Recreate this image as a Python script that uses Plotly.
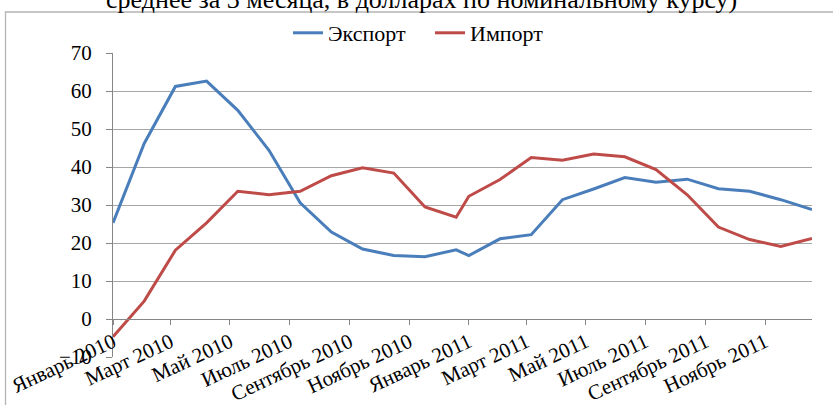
import plotly.graph_objects as go

# ---- data ----
dates = ["2010-01-01", "2010-02-02", "2010-03-06", "2010-04-07", "2010-05-09", "2010-06-10",
         "2010-07-12", "2010-08-13", "2010-09-14", "2010-10-16", "2010-11-17", "2010-12-19",
         "2011-01-01", "2011-02-02", "2011-03-06", "2011-04-07", "2011-05-09", "2011-06-10",
         "2011-07-12", "2011-08-13", "2011-09-14", "2011-10-16", "2011-11-17", "2011-12-19"]
export_vals = [25.3, 46.2, 61.2, 62.6, 54.9, 44.4, 30.6, 22.9, 18.4, 16.7, 16.4, 18.2,
               16.7, 21.1, 22.2, 31.4, 34.2, 37.2, 36.0, 36.8, 34.3, 33.6, 31.4, 28.8]
import_vals = [-4.7, 4.7, 18.1, 25.3, 33.6, 32.7, 33.6, 37.7, 39.8, 38.4, 29.5, 26.8,
               32.3, 36.7, 42.5, 41.8, 43.4, 42.7, 39.3, 32.7, 24.2, 20.9, 19.1, 21.2]
tick_dates = ["2010-01-01", "2010-03-01", "2010-05-01", "2010-07-01", "2010-09-01", "2010-11-01",
              "2011-01-01", "2011-03-01", "2011-05-01", "2011-07-01", "2011-09-01", "2011-11-01"]
tick_labels = ["Январь 2010", "Март 2010", "Май 2010", "Июль 2010", "Сентябрь 2010", "Ноябрь 2010",
               "Январь 2011", "Март 2011", "Май 2011", "Июль 2011", "Сентябрь 2011", "Ноябрь 2011"]
series_names = ["Экспорт", "Импорт"]
title_text = "среднее за 3 месяца, в долларах по номинальному курсу)"

W, H = 833, 405
ML, MR, MT, MB = 113, 21, 53, 48
PW, PH = W - ML - MR, H - MT - MB


def px(x):
    return (x - ML) / PW


def py(y):
    return (H - MB - y) / PH


FONT = "Liberation Serif"
BLUE = "#4A7EBB"
RED = "#BE4B48"

fig = go.Figure()
fig.add_trace(go.Scatter(x=dates, y=export_vals, mode="lines", name=series_names[0],
                         line=dict(color=BLUE, width=3)))
fig.add_trace(go.Scatter(x=dates, y=import_vals, mode="lines", name=series_names[1],
                         line=dict(color=RED, width=3)))
# invisible trace carrying the secondary x axis (tick marks on the zero line)
fig.add_trace(go.Scatter(x=[dates[0], dates[-1]], y=[None, None], xaxis="x2",
                         showlegend=False, hoverinfo="skip"))

fig.update_layout(
    width=W, height=H,
    margin=dict(l=ML, r=MR, t=MT, b=MB, autoexpand=False),
    paper_bgcolor="white", plot_bgcolor="white",
    font=dict(family=FONT, size=21, color="black"),
    showlegend=True,
    legend=dict(orientation="h", x=px(288), xanchor="left", y=py(33), yanchor="middle",
                font=dict(family=FONT, size=22, color="black"), bgcolor="rgba(0,0,0,0)",
                itemwidth=30, entrywidth=97, traceorder="normal"),
    xaxis=dict(type="date", range=[dates[0], dates[-1]], automargin=False,
               tickmode="array", tickvals=tick_dates, ticktext=tick_labels,
               tickangle=-25, ticks="", showgrid=False, showline=False, zeroline=False,
               ticklabelstandoff=-32,
               tickfont=dict(family=FONT, size=21, color="black")),
    xaxis2=dict(type="date", range=[dates[0], dates[-1]], overlaying="x",
                anchor="free", position=0.125, automargin=False,
                tickmode="array", tickvals=tick_dates, ticks="outside", ticklen=5,
                tickcolor="#868686", showticklabels=False, showgrid=False,
                showline=True, linecolor="#868686", linewidth=1, zeroline=False),
    yaxis=dict(range=[-10, 70], dtick=10, tick0=0, showgrid=True, gridcolor="#A6A6A6",
               gridwidth=1, zeroline=False, showline=True, linecolor="#868686",
               automargin=False, ticks="outside", ticklen=6, tickcolor="#868686",
               ticklabelstandoff=10,
               tickfont=dict(family=FONT, size=21, color="black")),
    shapes=[dict(type="rect", xref="paper", yref="paper",
                 x0=px(5.5), x1=px(845), y0=py(415), y1=py(12),
                 line=dict(color="#B4B4B4", width=1.3), fillcolor="rgba(0,0,0,0)",
                 layer="below")],
    annotations=[dict(text=title_text, xref="paper", yref="paper",
                      x=px(421), y=py(0), xanchor="center", yanchor="middle",
                      showarrow=False, font=dict(family=FONT, size=26, color="black"))],
)

fig.write_html("out.html", config={"displayModeBar": False},
               post_script="document.body.style.margin='0';")
